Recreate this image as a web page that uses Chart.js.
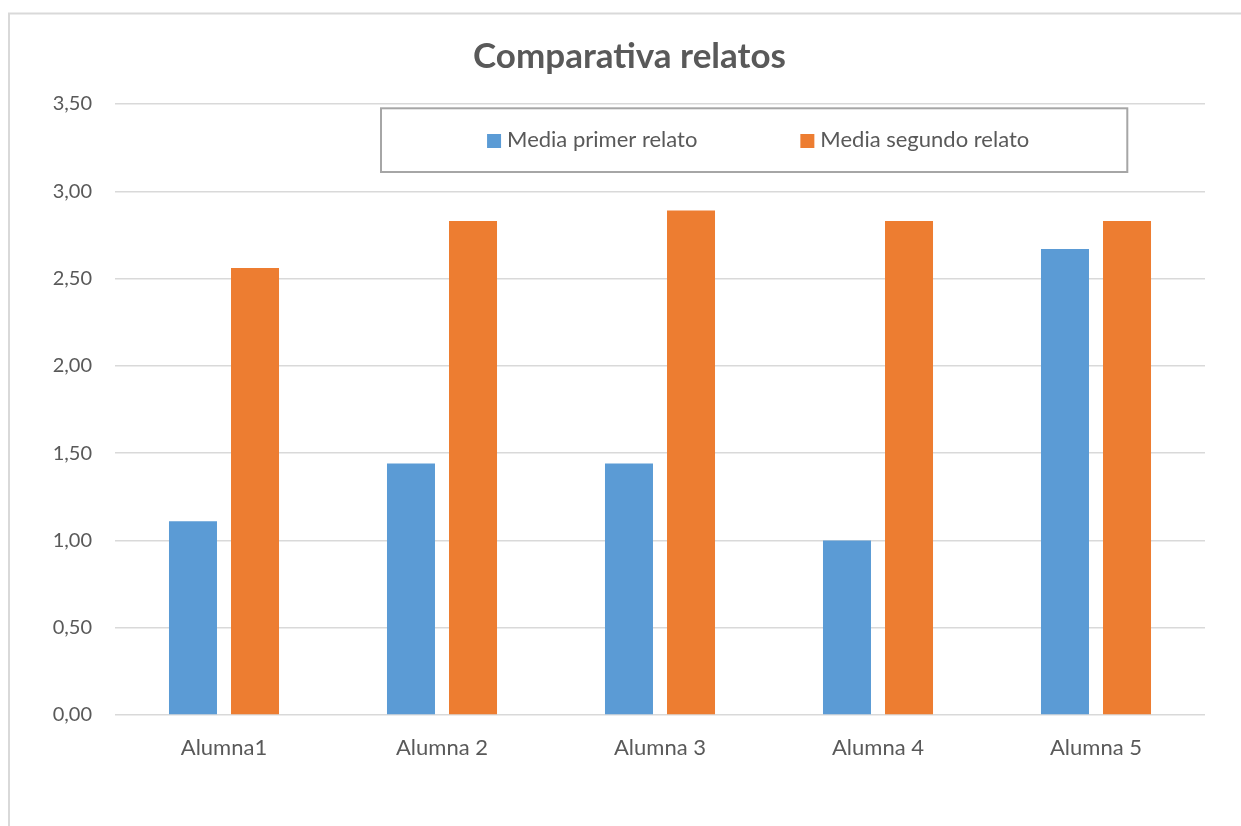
<!DOCTYPE html>
<html>
<head>
<meta charset="utf-8">
<script src="https://cdn.jsdelivr.net/npm/chart.js@4/dist/chart.umd.min.js"></script>
<style>
  html, body { margin: 0; padding: 0; background: #ffffff; }
  #wrap { width: 1241px; height: 826px; position: relative; }
</style>
</head>
<body>
<div id="wrap"><canvas id="c" width="1241" height="826"></canvas></div>
<script>
const categories = ['Alumna1', 'Alumna 2', 'Alumna 3', 'Alumna 4', 'Alumna 5'];
const seriesNames = ['Media primer relato', 'Media segundo relato'];
const primerRelato = [1.11, 1.44, 1.44, 1.00, 2.67];
const segundoRelato = [2.56, 2.83, 2.89, 2.83, 2.83];
const yTickLabels = ['0,00', '0,50', '1,00', '1,50', '2,00', '2,50', '3,00', '3,50'];

const FONT = 'Lato, "Open Sans", sans-serif';
const TEXT = '#595959';

// Light frame around the whole chart (left and top edges)
const framePlugin = {
  id: 'frame',
  beforeDraw(chart) {
    const ctx = chart.ctx;
    ctx.save();
    ctx.fillStyle = '#ffffff';
    ctx.fillRect(0, 0, chart.width, chart.height);
    ctx.strokeStyle = '#d9d9d9';
    ctx.lineWidth = 2;
    ctx.beginPath();
    ctx.moveTo(9, chart.height);
    ctx.lineTo(9, 13.5);
    ctx.lineTo(chart.width, 13.5);
    ctx.stroke();
    ctx.restore();
  }
};

// Centre the title over the framed chart rather than the padded canvas
const titleShift = {
  id: 'titleShift',
  afterLayout(chart) {
    const t = chart.titleBlock;
    if (t) { t.left += 27; t.right += 27; }
  }
};

// Boxed legend sitting inside the top of the plot area
const boxedLegend = {
  id: 'boxedLegend',
  afterDraw(chart) {
    const ctx = chart.ctx;
    const box = { x: 381, y: 108.3, w: 746.3, h: 63.7 };
    ctx.save();
    ctx.fillStyle = '#ffffff';
    ctx.fillRect(box.x, box.y, box.w, box.h);
    ctx.strokeStyle = '#a6a6a6';
    ctx.lineWidth = 2;
    ctx.strokeRect(box.x, box.y, box.w, box.h);

    ctx.font = '22px ' + FONT;
    ctx.textBaseline = 'middle';
    ctx.textAlign = 'left';
    const sq = 14, gapText = 6, gapItems = 103;
    const items = chart.data.datasets.map(ds => ({
      label: ds.label, color: ds.backgroundColor,
      w: sq + gapText + ctx.measureText(ds.label).width
    }));
    const total = items.reduce((s, it) => s + it.w, 0) + gapItems * (items.length - 1);
    let x = box.x + box.w / 2 - total / 2 + 4;
    const cy = 140;
    items.forEach(it => {
      ctx.fillStyle = it.color;
      ctx.fillRect(x, cy - sq / 2 + 1, sq, sq);
      ctx.fillStyle = TEXT;
      ctx.fillText(it.label, x + sq + gapText, cy);
      x += it.w + gapItems;
    });
    ctx.restore();
  }
};

new Chart(document.getElementById('c'), {
  type: 'bar',
  data: {
    labels: categories,
    datasets: [
      { label: seriesNames[0], data: primerRelato, backgroundColor: '#5b9bd5',
        categoryPercentage: 0.569, barPercentage: 0.774 },
      { label: seriesNames[1], data: segundoRelato, backgroundColor: '#ed7d31',
        categoryPercentage: 0.569, barPercentage: 0.774 }
    ]
  },
  options: {
    responsive: false,
    animation: false,
    layout: { padding: { left: 0, right: 36, top: 0, bottom: 0 } },
    plugins: {
      legend: { display: false },
      tooltip: { enabled: false },
      title: {
        display: true,
        text: 'Comparativa relatos',
        color: TEXT,
        font: { family: FONT, size: 35, weight: 'bold', lineHeight: 1.2 },
        padding: { top: 36, bottom: 26 }
      }
    },
    scales: {
      x: {
        grid: { display: false, drawTicks: false },
        border: { display: false },
        ticks: { color: TEXT, font: { family: FONT, size: 22 }, padding: 20 },
        afterFit(scale) { scale.height = 111; }
      },
      y: {
        min: 0, max: 3.5,
        ticks: {
          stepSize: 0.5, color: TEXT, padding: 23,
          font: { family: FONT, size: 20 },
          callback: (v, i) => yTickLabels[i]
        },
        grid: { color: '#d9d9d9', lineWidth: 1.5, drawTicks: false },
        border: { display: false },
        afterFit(scale) { scale.width = 115; }
      }
    }
  },
  plugins: [framePlugin, titleShift, boxedLegend]
});
</script>
</body>
</html>
